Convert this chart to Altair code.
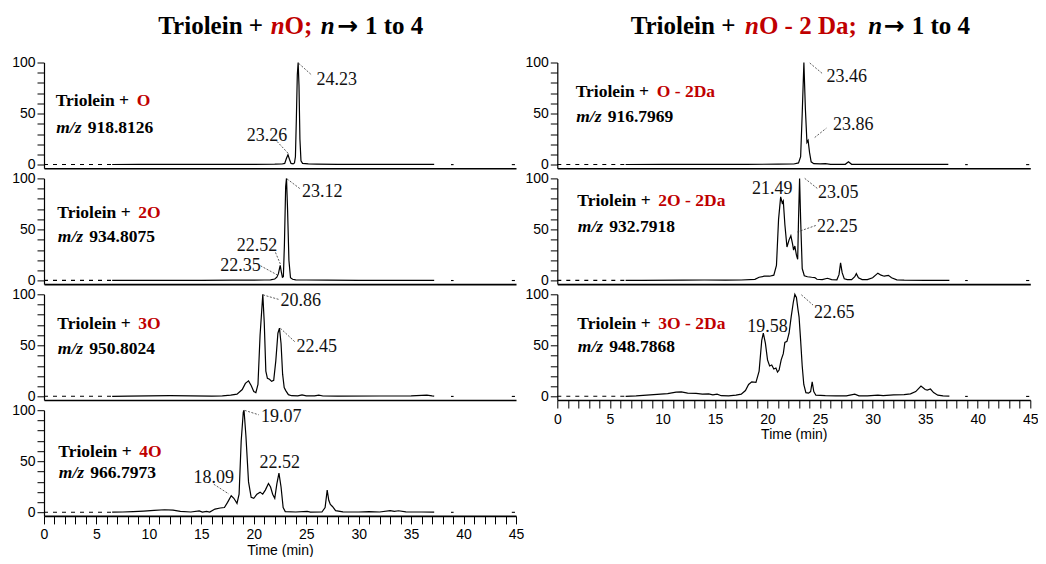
import altair as alt
import pandas as pd

RED = "#c00000"
SERIF = "Liberation Serif"
SANS = "Liberation Sans"

# ---------------- data (time in min, relative intensity in %) ----------------
DASH_T = [0.0, 6.5]
DASH_V = [0.4, 0.4]
DOT_T = [38.8, 39.05, 44.6, 44.9]
DOT_V = [0.3, 0.3, 0.3, 0.3]
DOT_SEG = ["a", "a", "b", "b"]

# Triolein + O
L1_T = [6.5, 9, 12, 15, 18, 20, 22, 22.7, 22.95, 23.1, 23.26, 23.4, 23.55, 23.75, 23.88, 23.97,
        24.06, 24.15, 24.23, 24.31, 24.4, 24.5, 24.65, 25.2, 26, 28, 31, 34, 37.2]
L1_V = [0.4, 0.5, 0.5, 0.5, 0.6, 0.6, 0.7, 0.9, 1.5, 6, 10, 5.5, 1.5, 1.0, 2, 8,
        45, 88, 100, 78, 25, 4, 1.5, 1.0, 0.8, 0.6, 0.5, 0.5, 0.5]
# Triolein + 2O
L2_T = [6.5, 9, 12, 15, 18, 20, 21, 21.6, 22.0, 22.2, 22.35, 22.45, 22.52, 22.62, 22.73, 22.82,
        22.92, 23.04, 23.12, 23.22, 23.35, 23.5, 23.7, 24.0, 25, 27, 30, 34, 37.2]
L2_V = [0.4, 0.5, 0.5, 0.5, 0.6, 0.6, 0.8, 1.0, 1.8, 3.5, 7, 12, 15, 9, 3.5, 4,
        35, 92, 100, 70, 20, 3, 1.5, 1.0, 0.8, 0.6, 0.5, 0.5, 0.5]
# Triolein + 3O
L3_T = [6.5, 8, 10, 12, 14, 16, 17, 17.8, 18.4, 18.9, 19.2, 19.5, 19.75, 20.0, 20.2, 20.4, 20.6,
        20.86, 21.0, 21.15, 21.3, 21.5, 21.7, 21.9, 22.1, 22.3, 22.45, 22.6, 22.75, 22.9, 23.05,
        23.3, 23.6, 24.2, 24.6, 25.0, 25.8, 26.2, 26.6, 28, 32, 35, 36.5, 37.0, 37.2]
L3_V = [0.4, 0.5, 0.8, 1.0, 0.8, 0.6, 0.8, 1.5, 2.5, 7, 13, 15.5, 11, 5, 4, 12, 60,
        100, 72, 25, 18, 17, 15, 16, 35, 62, 67, 52, 22, 9, 6,
        2, 1, 0.8, 1.8, 0.8, 0.8, 1.6, 0.7, 0.6, 0.7, 0.8, 1.5, 0.8, 0.6]
# Triolein + 4O
L4_T = [6.5, 7.5, 8.5, 9.5, 10.5, 11.5, 12.3, 13, 14, 14.8, 15.1, 15.5, 15.8, 16.3, 16.8, 17.2,
        17.5, 17.85, 18.1, 18.4, 18.6, 18.8, 19.0, 19.07, 19.25, 19.5, 19.75, 20.0, 20.3, 20.6,
        20.85, 21.1, 21.4, 21.6, 21.8, 22.0, 22.2, 22.4, 22.6, 22.8, 23.0, 24, 25.1, 25.4, 26.5,
        26.8, 27.0, 27.15, 27.3, 27.5, 27.8, 28.5, 30, 31, 32, 33, 33.4, 33.8, 34.5, 36, 37.2]
L4_V = [0.4, 0.6, 1.0, 1.5, 2.2, 2.8, 2.5, 1.2, 0.6, 1.6, 0.5, 1.2, 0.6, 3.5, 4.5, 5,
        10, 16.5, 14, 9, 18, 70, 98, 100, 75, 30, 15, 14, 18, 20,
        18, 22, 28.5, 25, 18, 14, 28, 38.5, 25, 5, 1, 0.6, 1.2, 0.5, 0.6,
        5, 22, 12, 8, 6, 2, 0.8, 0.6, 1.0, 0.6, 2, 1.2, 1.8, 0.8, 0.6, 0.5]
# Triolein + O - 2Da
R1_T = [6.5, 10, 14, 18, 21, 22.5, 22.95, 23.15, 23.3, 23.46, 23.6, 23.75, 23.86, 24.0, 24.15,
        24.4, 25.0, 25.5, 26.0, 27.4, 27.7, 28.0, 30, 34, 37.2]
R1_V = [0.4, 0.5, 0.5, 0.6, 0.7, 0.9, 2, 8, 50, 100, 55, 22, 24, 12, 3,
        1.2, 1.0, 1.2, 0.6, 0.6, 3, 0.6, 0.5, 0.5, 0.5]
# Triolein + 2O - 2Da
R2_T = [6.5, 8, 12, 14, 16, 17.5, 18.8, 19.2, 19.7, 20.2, 20.6, 20.85, 21.05, 21.25, 21.4, 21.5,
        21.65, 21.85, 22.05, 22.22, 22.38, 22.48, 22.6, 22.75, 22.87, 22.95, 23.05, 23.15, 23.3,
        23.5, 23.8, 24.2, 24.5, 24.7, 25.2, 25.7, 26.1, 26.6, 26.8, 26.95, 27.1, 27.3, 27.6, 28.0,
        28.3, 28.45, 28.65, 29, 29.5, 30.0, 30.5, 30.8, 31.1, 31.5, 31.8, 32.3, 33, 35, 37.3]
R2_V = [0.4, 0.5, 0.6, 0.8, 0.6, 0.8, 1.5, 3.5, 4.5, 4.5, 5.5, 15, 60, 82, 76, 78,
        55, 33, 40, 44, 36, 30, 34, 25, 21, 60, 100, 60, 12,
        5, 4, 3.5, 3.2, 1.5, 1.2, 2.5, 1.2, 1.0, 6, 17.5, 8, 2, 1.2, 1.2,
        4, 7, 3, 1.2, 1.2, 3, 7.5, 5.5, 4.5, 5.3, 3, 1.0, 0.6, 0.5, 0.5]
# Triolein + 3O - 2Da
R3_T = [6.5, 7.5, 8.5, 9.5, 10.5, 11.3, 11.8, 12.4, 13.2, 13.8, 14.4, 14.8, 15.2, 15.6, 16.3,
        17.0, 17.5, 17.9, 18.2, 18.5, 18.9, 19.2, 19.45, 19.6, 19.8, 20.0, 20.2, 20.4, 20.6,
        20.8, 20.95, 21.1, 21.3, 21.5, 21.65, 21.85, 22.05, 22.25, 22.45, 22.6, 22.75, 22.9,
        23.0, 23.15, 23.3, 23.45, 23.65, 23.9, 24.1, 24.25, 24.4, 24.6, 25.5, 26.5, 27.5, 28.3,
        28.7, 29.5, 30.5, 31, 32, 33, 33.6, 34.1, 34.6, 35.0, 35.2, 35.5, 35.8, 36.2, 36.7, 37.3]
R3_V = [0.4, 0.8, 1.5, 2.2, 3, 4.5, 4.8, 3.5, 3.2, 2.5, 2.8, 1.8, 2.5, 1.0, 0.8,
        1.5, 2.5, 6, 12, 14.5, 14, 25, 55, 62, 52, 36, 30, 31, 27,
        28, 24, 26, 36, 42, 53, 54, 62, 78, 92, 100, 97, 85,
        78, 55, 30, 12, 4, 3.5, 5, 14.5, 5, 1.5, 1.0, 0.8, 0.8, 2.5,
        0.9, 0.8, 1.5, 1.0, 1.8, 2, 2.8, 5, 10.5, 7, 6.5, 7.5, 4, 1.5, 0.8, 0.5]

# peak labels: text, position (t, v), alignment; leader lines [t1, v1, t2, v2]
L1_LAB = ["24.23", "23.26"]
L1_LAB_T = [25.97, 21.27]
L1_LAB_V = [82.6, 28.4]
L1_LAB_A = ["left", "center"]
L1_LEAD = [[24.3, 99, 25.55, 87.5], [22.22, 22.9, 23.27, 11.4]]

L2_LAB = ["23.12", "22.52", "22.35"]
L2_LAB_T = [24.6, 20.3, 18.73]
L2_LAB_V = [86.4, 34.2, 14.7]
L2_LAB_A = ["left", "center", "center"]
L2_LEAD = [[23.17, 99.5, 24.45, 89.6], [22.07, 27.7, 22.54, 16.2], [20.64, 14.7, 22.22, 5.9]]

L3_LAB = ["20.86", "22.45"]
L3_LAB_T = [22.54, 24.07]
L3_LAB_V = [93.0, 48.9]
L3_LAB_A = ["left", "left"]
L3_LEAD = [[20.89, 99.4, 22.38, 95], [22.54, 66.8, 23.9, 53.8]]

L4_LAB = ["19.07", "22.52", "18.09"]
L4_LAB_T = [20.7, 22.48, 16.19]
L4_LAB_V = [93.2, 48.2, 33.6]
L4_LAB_A = ["left", "center", "center"]
L4_LEAD = [[19.14, 99.8, 20.48, 95.5], [16.19, 27.7, 17.62, 18.2]]

R1_LAB = ["23.46", "23.86"]
R1_LAB_T = [25.6, 26.23]
R1_LAB_V = [85.8, 38.5]
R1_LAB_A = ["left", "left"]
R1_LEAD = [[24.02, 99.5, 25.28, 88.7], [24.49, 26.8, 25.6, 35.9]]

R2_LAB = ["23.05", "22.25", "21.49"]
R2_LAB_T = [24.8, 24.71, 20.46]
R2_LAB_V = [86.0, 52.6, 89.5]
R2_LAB_A = ["left", "left", "center"]
R2_LEAD = [[23.54, 100, 24.74, 90.2], [22.84, 47.7, 24.64, 54.2]]

R3_LAB = ["22.65", "19.58"]
R3_LAB_T = [24.43, 20.0]
R3_LAB_V = [81.4, 68.3]
R3_LAB_A = ["left", "center"]
R3_LEAD = [[23.22, 99.5, 24.33, 89.5]]

# panel labels: (black part, red part, m/z value)
LABELS = {
    "L1": ("Triolein +", "O", "918.8126"),
    "L2": ("Triolein +", "2O", "934.8075"),
    "L3": ("Triolein +", "3O", "950.8024"),
    "L4": ("Triolein +", "4O", "966.7973"),
    "R1": ("Triolein +", "O - 2Da", "916.7969"),
    "R2": ("Triolein +", "2O - 2Da", "932.7918"),
    "R3": ("Triolein +", "3O - 2Da", "948.7868"),
}

# ---------------- layout / style ----------------
PANEL_H = 105.7
LEFT_W = 472
RIGHT_W = 473
ONE = pd.DataFrame({"k": [0]})

xs = alt.Scale(domain=[0, 45], nice=False, zero=False)
ys = alt.Scale(domain=[-3.2, 100], nice=False, zero=False)
y_axis = alt.Axis(values=list(range(0, 101, 10)),
                  labelExpr="datum.value % 50 === 0 ? datum.label : ''",
                  tickSize=7, labelPadding=2, title=None, labelOverlap=False,
                  labelFlush=False, labelFontSize=14, domainWidth=1.2)
x_axis_plain = alt.Axis(labels=False, ticks=False, title=None, domainWidth=1.6)
x_axis_bottom = alt.Axis(values=list(range(0, 46)),
                         labelExpr="datum.value % 5 === 0 ? datum.label : ''",
                         tickSize=8, labelPadding=4, title="Time (min)",
                         titleFont=SANS, titleFontSize=14, titleFontWeight="normal",
                         titlePadding=1.5, labelOverlap=False, labelFlush=False,
                         labelFontSize=14, domainWidth=1.6)


def txt(s, x, y, size, color="black", style="normal", weight="bold",
        align="left", baseline="alphabetic", font=SERIF):
    return alt.Chart(ONE).mark_text(
        font=font, fontSize=size, color=color, fontStyle=style, fontWeight=weight,
        align=align, baseline=baseline
    ).encode(x=alt.value(x), y=alt.value(y), text=alt.value(s))


def panel(T, V, lab, lab_t, lab_v, lab_a, lead, key, lx, y1, y2, width, bottom, extra=()):
    xenc = alt.X("t:Q", scale=xs, axis=x_axis_bottom if bottom else x_axis_plain)
    yenc = alt.Y("v:Q", scale=ys, axis=y_axis)
    df = pd.DataFrame({"t": T, "v": V})
    dash_df = pd.DataFrame({"t": DASH_T + DOT_T, "v": DASH_V + DOT_V,
                            "seg": ["s", "s"] + DOT_SEG})
    lead_df = pd.DataFrame(lead, columns=["t", "v", "t2", "v2"])
    lab_df = pd.DataFrame({"t": lab_t, "v": lab_v, "s": lab, "a": lab_a})

    layers = [
        alt.Chart(df).mark_line(color="black", strokeWidth=1.2).encode(x=xenc, y=yenc),
        alt.Chart(dash_df).mark_line(color="black", strokeWidth=1.1, strokeDash=[4, 5])
        .encode(x=xenc, y=yenc, detail="seg:N"),
        alt.Chart(lead_df).mark_rule(color="#333333", strokeWidth=0.8, strokeDash=[2, 1.5])
        .encode(x=xenc, y=yenc, x2="t2:Q", y2="v2:Q"),
    ]
    for a in ["left", "center"]:
        sub = lab_df[lab_df["a"] == a]
        if len(sub):
            layers.append(alt.Chart(sub).mark_text(
                font=SERIF, fontSize=18, color="#111111", align=a, baseline="middle"
            ).encode(x=xenc, y=yenc, text="s:N"))
    black, red, mz = LABELS[key]
    layers += [
        txt(black, lx, y1, 17.5),
        txt(red, lx + 81, y1, 17.5, color=RED),
        txt("m/z", lx + 0.5, y2, 17.5, style="italic"),
        txt(mz, lx + 32, y2, 17.5),
    ]
    layers += list(extra)
    return alt.layer(*layers).properties(width=width, height=PANEL_H)


TY = -36.3
ARROW_FONT = "DejaVu Sans"
left_title = [
    txt("Triolein +", 114.3, TY, 25, baseline="middle"),
    txt("n", 226.7, TY, 25, color=RED, style="italic", baseline="middle"),
    txt("O;", 240.6, TY, 25, color=RED, baseline="middle"),
    txt("n", 276.7, TY, 25, style="italic", baseline="middle"),
    txt("\u2192", 293.0, TY, 25, baseline="middle", font=ARROW_FONT),
    txt("1 to 4", 321, TY, 25, baseline="middle"),
]
right_title = [
    txt("Triolein +", 73.4, TY, 25, baseline="middle"),
    txt("n", 187.7, TY, 25, color=RED, style="italic", baseline="middle"),
    txt("O - 2 Da;", 201.6, TY, 25, color=RED, baseline="middle"),
    txt("n", 311, TY, 25, style="italic", baseline="middle"),
    txt("\u2192", 326.3, TY, 25, baseline="middle", font=ARROW_FONT),
    txt("1 to 4", 354.4, TY, 25, baseline="middle"),
]

p_l1 = panel(L1_T, L1_V, L1_LAB, L1_LAB_T, L1_LAB_V, L1_LAB_A, L1_LEAD, "L1", 11.7, 43, 70.7, LEFT_W, False, left_title)
p_l2 = panel(L2_T, L2_V, L2_LAB, L2_LAB_T, L2_LAB_V, L2_LAB_A, L2_LEAD, "L2", 13.3, 39.3, 63.3, LEFT_W, False)
p_l3 = panel(L3_T, L3_V, L3_LAB, L3_LAB_T, L3_LAB_V, L3_LAB_A, L3_LEAD, "L3", 13.3, 35, 60, LEFT_W, False)
p_l4 = panel(L4_T, L4_V, L4_LAB, L4_LAB_T, L4_LAB_V, L4_LAB_A, L4_LEAD, "L4", 14.3, 47, 67.7, LEFT_W, True)
p_r1 = panel(R1_T, R1_V, R1_LAB, R1_LAB_T, R1_LAB_V, R1_LAB_A, R1_LEAD, "R1", 18.4, 34.7, 59, RIGHT_W, False, right_title)
p_r2 = panel(R2_T, R2_V, R2_LAB, R2_LAB_T, R2_LAB_V, R2_LAB_A, R2_LEAD, "R2", 20, 27.7, 53.3, RIGHT_W, False)
p_r3 = panel(R3_T, R3_V, R3_LAB, R3_LAB_T, R3_LAB_V, R3_LAB_A, R3_LEAD, "R3", 20, 34.7, 58, RIGHT_W, True)

chart = alt.concat(
    p_l1, p_r1, p_l2, p_r2, p_l3, p_r3, p_l4,
    columns=2, spacing={"row": 9.9, "column": 40.3}, bounds="flush", align="all"
).properties(
    padding={"left": 3, "top": 5.5, "right": -1, "bottom": -1}
).configure_view(strokeWidth=0).configure_axis(
    grid=False, domainColor="black", tickColor="black", labelColor="black",
    labelFont=SANS, tickWidth=1, titleColor="black"
)

chart.save("out.html", embed_options={"renderer": "svg", "actions": False})
